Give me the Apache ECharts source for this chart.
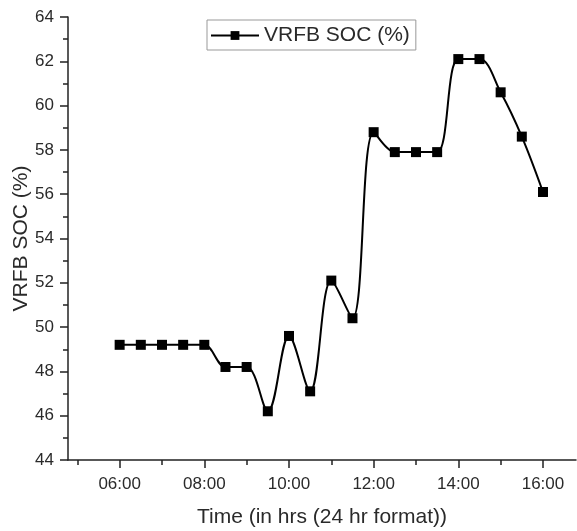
<!DOCTYPE html>
<html>
<head>
<meta charset="utf-8">
<script src="https://cdn.jsdelivr.net/npm/echarts@6/dist/echarts.min.js"></script>
<style>
  * { margin: 0; padding: 0; }
  html, body { background: #fff; }
  #chart-container { width: 577px; height: 531px; }
</style>
</head>
<body>
<div id="chart-container"></div>
<script>
  // hours of the day, sampled every 30 min
  var hours = [6, 6.5, 7, 7.5, 8, 8.5, 9, 9.5, 10, 10.5, 11, 11.5, 12, 12.5, 13, 13.5, 14, 14.5, 15, 15.5, 16]
  var soc = [49.2, 49.2, 49.2, 49.2, 49.2, 48.2, 48.2, 46.2, 49.6, 47.1, 52.1, 50.4, 58.8, 57.9, 57.9, 57.9, 62.1, 62.1, 60.6, 58.6, 56.1]
  var xMajor = [6, 8, 10, 12, 14, 16]
  var xMinor = [5, 7, 9, 11, 13, 15]

  var font = 'Liberation Sans, Arial, sans-serif'
  var textColor = '#2a2a2a'

  function pad(h) {
    return (h < 10 ? '0' : '') + h + ':00'
  }

  var chartDom = document.getElementById('chart-container')
  var myChart = echarts.init(chartDom, null, { renderer: 'canvas' })

  var option = {
    animation: false,
    textStyle: { fontFamily: font },
    grid: { left: 68, top: 17, right: 1, bottom: 71, containLabel: false, outerBoundsMode: 'none' },
    legend: {
      left: 207,
      top: 20,
      padding: [5, 6, 4, 3],
      itemWidth: 48,
      itemHeight: 11,
      itemGap: 6,
      borderColor: '#999',
      borderWidth: 1,
      textStyle: { fontSize: 21, color: textColor, fontFamily: font },
      data: ['VRFB SOC (%)'],
    },
    xAxis: [
      {
        type: 'value',
        min: 4.78,
        max: 16.78,
        name: 'Time (in hrs (24 hr format))',
        nameLocation: 'middle',
        nameGap: 47,
        nameMoveOverlap: false,
        nameTextStyle: { fontSize: 21, color: textColor },
        splitLine: { show: false },
        axisLine: { show: true, lineStyle: { color: '#222', width: 1.5 } },
        axisTick: { show: true, inside: false, length: 8, customValues: xMajor, lineStyle: { color: '#222', width: 1.5 } },
        axisLabel: {
          customValues: xMajor,
          margin: 16,
          fontSize: 17,
          color: textColor,
          formatter: function (v) { return pad(v) },
        },
      },
      {
        type: 'value',
        min: 4.78,
        max: 16.78,
        position: 'bottom',
        splitLine: { show: false },
        axisLine: { show: false },
        axisTick: { show: true, inside: false, length: 5, customValues: xMinor, lineStyle: { color: '#222', width: 1.5 } },
        axisLabel: { show: false },
      },
    ],
    yAxis: {
      type: 'value',
      min: 44,
      max: 64,
      interval: 2,
      name: 'VRFB SOC (%)',
      nameLocation: 'middle',
      nameGap: 36,
      nameMoveOverlap: false,
      nameTextStyle: { fontSize: 21, color: textColor },
      splitLine: { show: false },
      axisLine: { show: true, lineStyle: { color: '#222', width: 1.5 } },
      axisTick: { show: true, inside: false, length: 8, lineStyle: { color: '#222', width: 1.5 } },
      minorTick: { show: true, splitNumber: 2, length: 5, lineStyle: { color: '#222', width: 1.5 } },
      axisLabel: { margin: 14, fontSize: 17, color: textColor },
    },
    series: [
      {
        name: 'VRFB SOC (%)',
        type: 'line',
        data: hours.map(function (h, i) { return [h, soc[i]] }),
        smooth: 0.35,
        symbol: 'rect',
        symbolSize: 10,
        itemStyle: { color: '#000' },
        lineStyle: { color: '#000', width: 2 },
      },
    ],
  }

  myChart.setOption(option)
  window.addEventListener('resize', myChart.resize)
</script>
</body>
</html>
